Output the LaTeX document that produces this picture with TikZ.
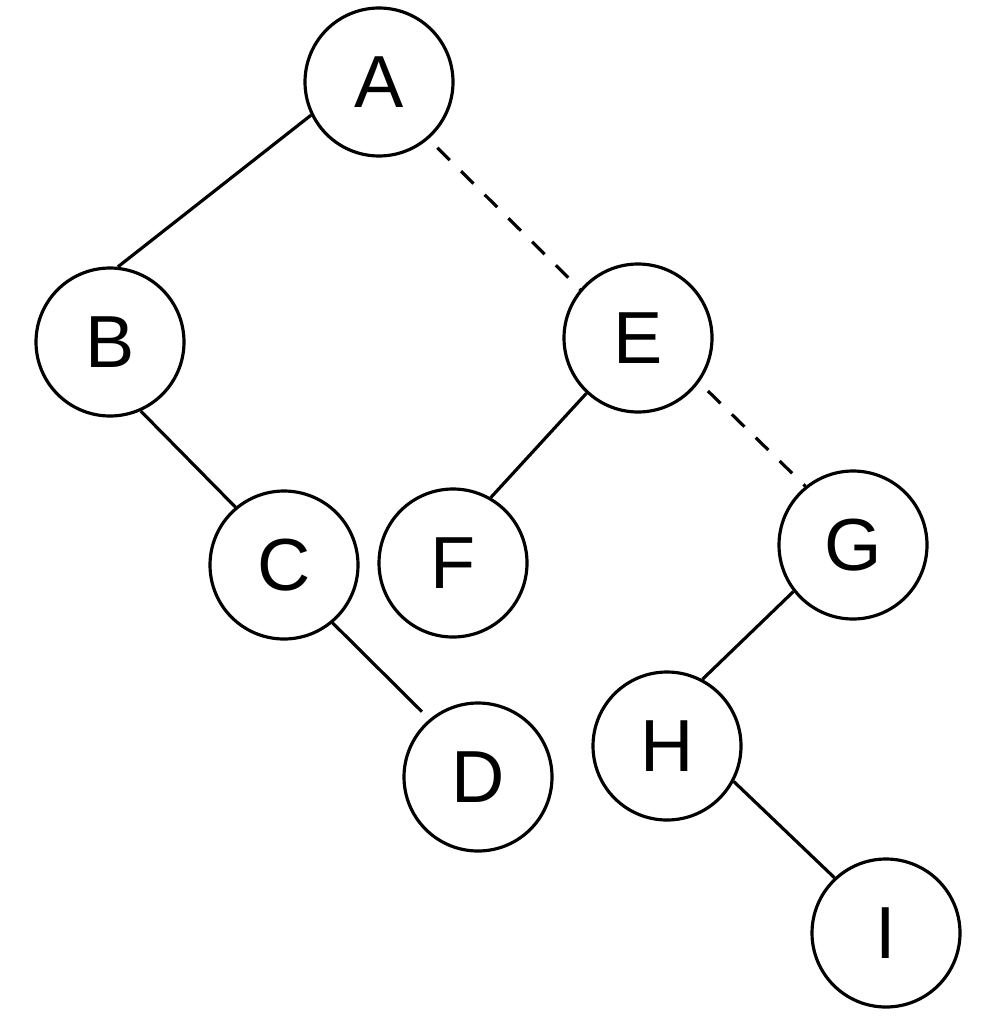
\documentclass[tikz,border=0pt]{standalone}
\usepackage{fontspec}
\setmainfont{Liberation Sans}
\usepackage{tikz}
\usetikzlibrary{positioning}

\begin{document}
\begin{tikzpicture}[
    treenode/.style={draw, circle, line width=0.9pt, minimum size=1.48cm, inner sep=0pt, font=\fontsize{21}{25}\selectfont},
    edge/.style={line width=0.9pt},
    thread/.style={line width=0.9pt, dash pattern=on 5pt off 4.5pt, dash phase=6pt}
  ]
  \useasboundingbox (0,0) rectangle (10,-10.28);
  % Nodes
  \node[treenode] (A) at (3.79,-0.82) {A};
  \node[treenode] (B) at (1.10,-3.42) {B};
  \node[treenode] (E) at (6.38,-3.38) {E};
  \node[treenode] (C) at (2.84,-5.65) {C};
  \node[treenode] (F) at (4.53,-5.63) {F};
  \node[treenode] (G) at (8.53,-5.45) {G};
  \node[treenode] (D) at (4.78,-7.77) {D};
  \node[treenode] (H) at (6.67,-7.46) {H};
  \node[treenode] (I) at (8.86,-9.33) {I};

  % Edges
  \draw[edge] (A.206) -- (B.84);
  \draw[edge] (B.294) -- (C.130);
  \draw[edge, shorten >=3pt] (C.310) -- (D.130);
  \draw[edge] (E.227) -- (F.60);
  \draw[edge] (G.218) -- (H.62);
  \draw[edge] (H.332) -- (I.133);

  % Dashed links
  \draw[thread] (A.311) -- (E.140);
  \draw[thread] (E.324) -- (G.129);
\end{tikzpicture}
\end{document}
